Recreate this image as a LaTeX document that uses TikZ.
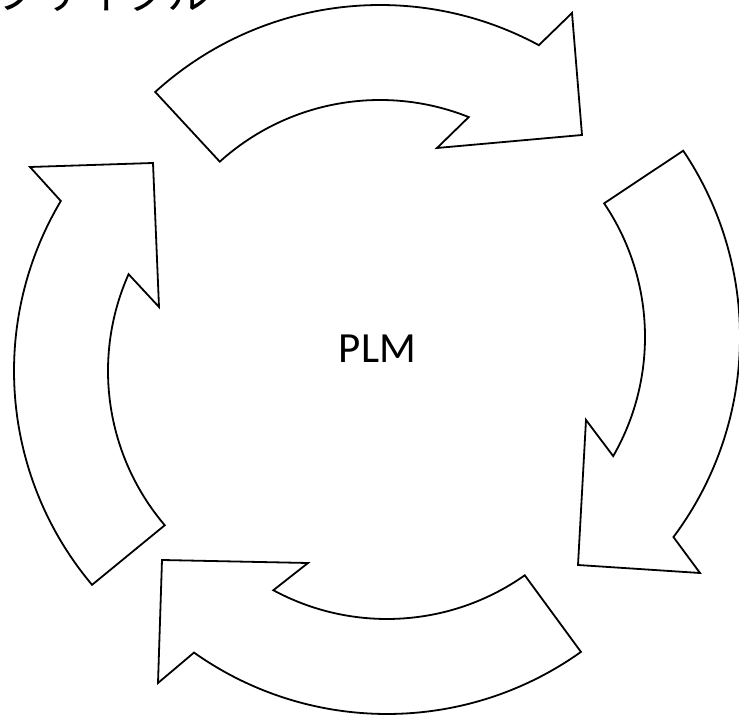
\documentclass[tikz,border=0pt]{standalone}
\usepackage{fontspec}
\setmainfont{Carlito}
\newfontfamily\jpfont{Noto Sans CJK JP}
\usetikzlibrary{calc}
\begin{document}
\begin{tikzpicture}[x=1pt,y=1pt,
  arrowshape/.style={draw=black, line width=1.8pt, line join=miter, fill=white}]
\useasboundingbox (0,0) rectangle (739,717);
\coordinate (T) at (380,378);
\coordinate (R) at (406,380);
\coordinate (B) at (387,337);
\coordinate (L) at (346,346);
% top arrow
\draw[arrowshape] ($(T)+(132.3:334pt)$) arc[start angle=132.3, end angle=61.6, radius=334pt]
  -- (572,704) -- (582,582) -- (437,569) -- ($(T)+(68.2:239pt)$)
  arc[start angle=68.2, end angle=132.1, radius=239pt] -- cycle;
% right arrow
\draw[arrowshape] ($(R)+(33.9:334pt)$) arc[start angle=33.9, end angle=-36.8, radius=334pt]
  -- (700,144) -- (578,152) -- (586,297) -- ($(R)+(-29.9:239pt)$)
  arc[start angle=-29.9, end angle=34.0, radius=239pt] -- cycle;
% bottom arrow
\draw[arrowshape] ($(B)+(-54.5:334pt)$) arc[start angle=-54.5, end angle=-125.3, radius=334pt]
  -- (158,34) -- (162,157) -- (308,154) -- ($(B)+(-118.4:239pt)$)
  arc[start angle=-118.4, end angle=-54.8, radius=239pt] -- cycle;
% left arrow
\draw[arrowshape] ($(L)+(220.1:332pt)$) arc[start angle=220.1, end angle=149.2, radius=332pt]
  -- (30,550) -- (153,554) -- (159,410) -- ($(L)+(156.0:238pt)$)
  arc[start angle=156.0, end angle=220.4, radius=238pt] -- cycle;
\node[inner sep=0, font=\fontsize{43}{43}\selectfont] (plm) at (377.5,368.5) {PLM};
\node[anchor=base west, inner sep=0, font=\jpfont\fontsize{44}{44}\selectfont] (title) at (-94,707) {ライフサイクル};
\end{tikzpicture}
\end{document}
